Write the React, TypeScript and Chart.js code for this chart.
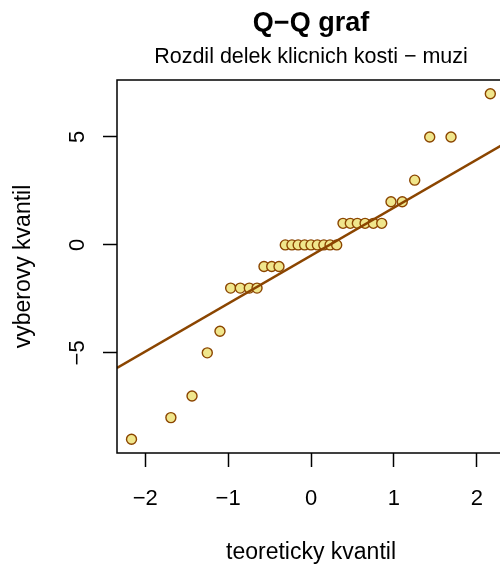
import { useEffect, useRef } from "react";
import { Chart, registerables } from "chart.js";

Chart.register(...registerables);

// Theoretical normal quantiles (x) and sample values (y)
const theoreticalQuantiles = [
  -2.165, -1.69, -1.435, -1.251, -1.098, -0.969, -0.853, -0.744, -0.651,
  -0.567, -0.474, -0.386, -0.31, -0.23, -0.155, -0.077, 0, 0.077, 0.155,
  0.23, 0.31, 0.386, 0.474, 0.559, 0.652, 0.752, 0.853, 0.965, 1.101,
  1.251, 1.432, 1.689, 2.163,
];
const sampleQuantiles = [
  -9, -8, -7, -5, -4, -2, -2, -2, -2, -1, -1, -1, 0, 0, 0, 0, 0, 0, 0, 0, 0,
  1, 1, 1, 1, 1, 1, 2, 2, 3, 5, 5, 7,
];
const xTickValues = [-2, -1, 0, 1, 2];
const yTickValues = [-5, 0, 5];
const xLimits = [-2.34, 2.34];
const yLimits = [-9.64, 7.64];
// reference line (qqline)
const lineIntercept = -0.5;
const lineSlope = 2.224;

const titleText = "Q\u2212Q graf";
const subtitleText = "Rozdil delek klicnich kosti \u2212 muzi";
const xTitle = "teoreticky kvantil";
const yTitle = "vyberovy kvantil";

const FONT = "'Liberation Sans', Arial, Helvetica, sans-serif";
const LINE_COLOR = "#8B4500";
const POINT_FILL = "#F0E68C";

const boxPlugin = {
  id: "plotBox",
  afterDatasetsDraw(chart: any) {
    const { ctx, chartArea } = chart;
    const { left, top, right, bottom } = chartArea;
    ctx.save();
    ctx.strokeStyle = "#000";
    ctx.lineWidth = 1.5;
    ctx.strokeRect(left, top, right - left, bottom - top);
    ctx.restore();
  },
};

const fmt = (v: number) => (v < 0 ? "\u2212" + Math.abs(v) : String(v));

export default function App() {
  const ref = useRef<HTMLCanvasElement | null>(null);

  useEffect(() => {
    if (!ref.current) return;
    const points = theoreticalQuantiles.map((x, i) => ({ x, y: sampleQuantiles[i] }));
    const linePts = xLimits.map((x) => ({ x, y: lineIntercept + lineSlope * x }));

    const chart = new Chart(ref.current, {
      type: "scatter",
      data: {
        datasets: [
          {
            type: "line",
            data: linePts,
            borderColor: LINE_COLOR,
            borderWidth: 2.5,
            pointRadius: 0,
            fill: false,
            order: 0,
          } as any,
          {
            data: points,
            backgroundColor: POINT_FILL,
            borderColor: LINE_COLOR,
            borderWidth: 1.4,
            pointRadius: 5,
            order: 1,
          },
        ],
      },
      options: {
        animation: false,
        responsive: false,
        devicePixelRatio: 1,
        layout: { padding: { top: 0, right: 7, bottom: 0, left: 0 } },
        plugins: {
          legend: { display: false },
          tooltip: { enabled: false },
          title: {
            display: true,
            text: titleText,
            color: "#000",
            fullSize: false,
            font: { family: FONT, size: 27, weight: "bold" },
            padding: { top: 7, bottom: 3 },
          },
          subtitle: {
            display: true,
            text: subtitleText,
            color: "#000",
            fullSize: false,
            font: { family: FONT, size: 21.5 },
            padding: { top: 2.2, bottom: 9.6 },
          },
        },
        scales: {
          x: {
            type: "linear",
            min: xLimits[0],
            max: xLimits[1],
            afterBuildTicks: (s: any) => {
              s.ticks = xTickValues.map((v) => ({ value: v }));
            },
            afterFit: (s: any) => {
              s.height = 111;
            },
            grid: {
              display: true,
              drawOnChartArea: false,
              drawTicks: true,
              tickLength: 14,
              tickWidth: 1.5,
              tickColor: "#000",
            },
            border: { display: false },
            ticks: {
              autoSkip: false,
              maxRotation: 0,
              minRotation: 0,
              padding: 19,
              color: "#000",
              font: { family: FONT, size: 22 },
              callback: (v: any) => fmt(Number(v)),
            },
            title: {
              display: true,
              text: xTitle,
              color: "#000",
              font: { family: FONT, size: 23, lineHeight: 1 },
              padding: { top: 0, bottom: 0 },
            },
          },
          y: {
            type: "linear",
            min: yLimits[0],
            max: yLimits[1],
            afterBuildTicks: (s: any) => {
              s.ticks = yTickValues.map((v) => ({ value: v }));
            },
            afterFit: (s: any) => {
              s.width = 117;
            },
            grid: {
              display: true,
              drawOnChartArea: false,
              drawTicks: true,
              tickLength: 14,
              tickWidth: 1.5,
              tickColor: "#000",
            },
            border: { display: false },
            ticks: {
              autoSkip: false,
              minRotation: 90,
              maxRotation: 90,
              crossAlign: "center",
              padding: 13,
              color: "#000",
              font: { family: FONT, size: 22 },
              callback: (v: any) => fmt(Number(v)),
            },
            title: {
              display: true,
              text: yTitle,
              color: "#000",
              font: { family: FONT, size: 23, lineHeight: 1 },
              padding: { top: 12, bottom: 0 },
            },
          },
        },
      },
      plugins: [boxPlugin],
    });
    return () => chart.destroy();
  }, []);

  return (
    <div
      style={{
        position: "absolute",
        left: 0,
        top: 0,
        width: 500,
        height: 564,
        overflow: "hidden",
        background: "#fff",
      }}
    >
      <canvas ref={ref} width={512} height={564} style={{ display: "block" }} />
    </div>
  );
}
